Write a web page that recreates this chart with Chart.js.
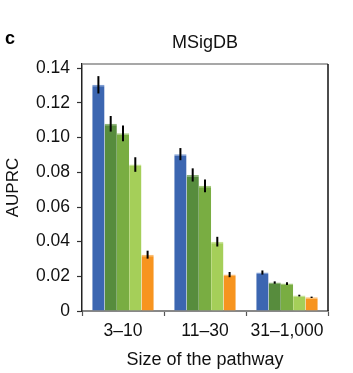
<!DOCTYPE html>
<html>
<head>
<meta charset="utf-8">
<script src="https://cdn.jsdelivr.net/npm/chart.js@4"></script>
<style>
  body { margin: 0; background: #fff; }
</style>
</head>
<body>
<canvas id="chart" width="353" height="373"></canvas>
<script>
// data
const categories = ['3–10', '11–30', '31–1,000'];
const seriesNames = ['Series 1', 'Series 2', 'Series 3', 'Series 4', 'Series 5'];
const blueVals = [0.1305, 0.0905, 0.0222];
const darkGreenVals = [0.1080, 0.0785, 0.0164];
const greenVals = [0.1025, 0.0722, 0.0158];
const lightGreenVals = [0.0845, 0.0400, 0.0089];
const orangeVals = [0.0325, 0.0210, 0.0079];
const blueErr = [0.0050, 0.0035, 0.0012];
const darkGreenErr = [0.0045, 0.0038, 0.0007];
const greenErr = [0.0045, 0.0037, 0.0008];
const lightGreenErr = [0.0042, 0.0028, 0.0005];
const orangeErr = [0.0023, 0.0015, 0.0004];
const yTicks = [0, 0.02, 0.04, 0.06, 0.08, 0.10, 0.12, 0.14];
const yTickLabels = ['0', '0.02', '0.04', '0.06', '0.08', '0.10', '0.12', '0.14'];

const fontFamily = '"Liberation Sans", Arial, Helvetica, sans-serif';
const colors = ['#3c66b1', '#578c3d', '#79ad42', '#a5cf59', '#f7941f'];
const topColors = ['#7f9ed3', '#8fb57a', '#a6cb7f', '#c7e394', '#fbbd72'];
const values = [blueVals, darkGreenVals, greenVals, lightGreenVals, orangeVals];
const errors = [blueErr, darkGreenErr, greenErr, lightGreenErr, orangeErr];

const datasets = values.map((v, i) => ({
    label: seriesNames[i],
    data: v,
    errors: errors[i],
    backgroundColor: colors[i],
    borderColor: topColors[i],
    borderWidth: { top: 1.5, left: 0, right: 0, bottom: 0 },
    borderSkipped: 'bottom'
}));

// error bars + panel frame
const extras = {
    id: 'extras',
    afterDatasetsDraw(chart) {
        const ctx = chart.ctx;
        const y = chart.scales.y;
        ctx.save();
        ctx.strokeStyle = '#000';
        ctx.lineWidth = 2;
        chart.data.datasets.forEach((ds, i) => {
            chart.getDatasetMeta(i).data.forEach((bar, j) => {
                const v = ds.data[j], e = ds.errors[j];
                ctx.beginPath();
                ctx.moveTo(bar.x, y.getPixelForValue(v + e));
                ctx.lineTo(bar.x, y.getPixelForValue(v - e));
                ctx.stroke();
            });
        });
        const a = chart.chartArea;
        ctx.lineWidth = 1.5;
        ctx.strokeStyle = '#8a8a8a';
        ctx.beginPath();
        ctx.moveTo(a.left, a.top);
        ctx.lineTo(a.right, a.top);
        ctx.stroke();
        ctx.strokeStyle = '#111';
        ctx.beginPath();
        ctx.moveTo(a.right, a.top);
        ctx.lineTo(a.right, a.bottom);
        ctx.stroke();
        ctx.restore();
    },
    afterDraw(chart) {
        const ctx = chart.ctx;
        ctx.save();
        ctx.fillStyle = '#000';
        ctx.font = 'bold 18px ' + fontFamily;
        ctx.textBaseline = 'alphabetic';
        ctx.fillText('c', 5, 44);
        ctx.restore();
    }
};

new Chart(document.getElementById('chart'), {
    type: 'bar',
    data: { labels: categories, datasets: datasets },
    options: {
        responsive: false,
        animation: false,
        layout: { padding: { left: 0, right: 25, top: 0, bottom: 0 } },
        datasets: { bar: { categoryPercentage: 0.75, barPercentage: 1 } },
        plugins: {
            legend: { display: false },
            tooltip: { enabled: false },
            title: {
                display: true,
                text: 'MSigDB',
                fullSize: false,
                color: '#111',
                font: { family: fontFamily, size: 18, weight: 'normal' },
                padding: { top: 32, bottom: 10.4 }
            }
        },
        scales: {
            x: {
                grid: { drawOnChartArea: false, tickLength: 5, color: '#555', tickWidth: 1.2 },
                border: { color: '#888', width: 2 },
                ticks: { color: '#111', padding: 5, font: { family: fontFamily, size: 17.5 } },
                title: {
                    display: true,
                    text: 'Size of the pathway',
                    color: '#111',
                    font: { family: fontFamily, size: 18 },
                    padding: { top: 0, bottom: 2 }
                },
                afterFit(s) { s.height = 62; }
            },
            y: {
                min: 0,
                max: 0.1425,
                afterBuildTicks(s) { s.ticks = yTicks.map(v => ({ value: v })); },
                grid: { drawOnChartArea: false, tickLength: 5, color: '#333', tickWidth: 1.2 },
                border: { color: '#222', width: 1.5 },
                ticks: {
                    color: '#111',
                    padding: 7,
                    font: { family: fontFamily, size: 17.5 },
                    callback: (v, i) => yTickLabels[i]
                },
                title: {
                    display: true,
                    text: 'AUPRC',
                    color: '#111',
                    font: { family: fontFamily, size: 17 },
                    padding: { top: 3, bottom: 0 }
                },
                afterFit(s) { s.width = 82; }
            }
        }
    },
    plugins: [extras]
});
</script>
</body>
</html>
